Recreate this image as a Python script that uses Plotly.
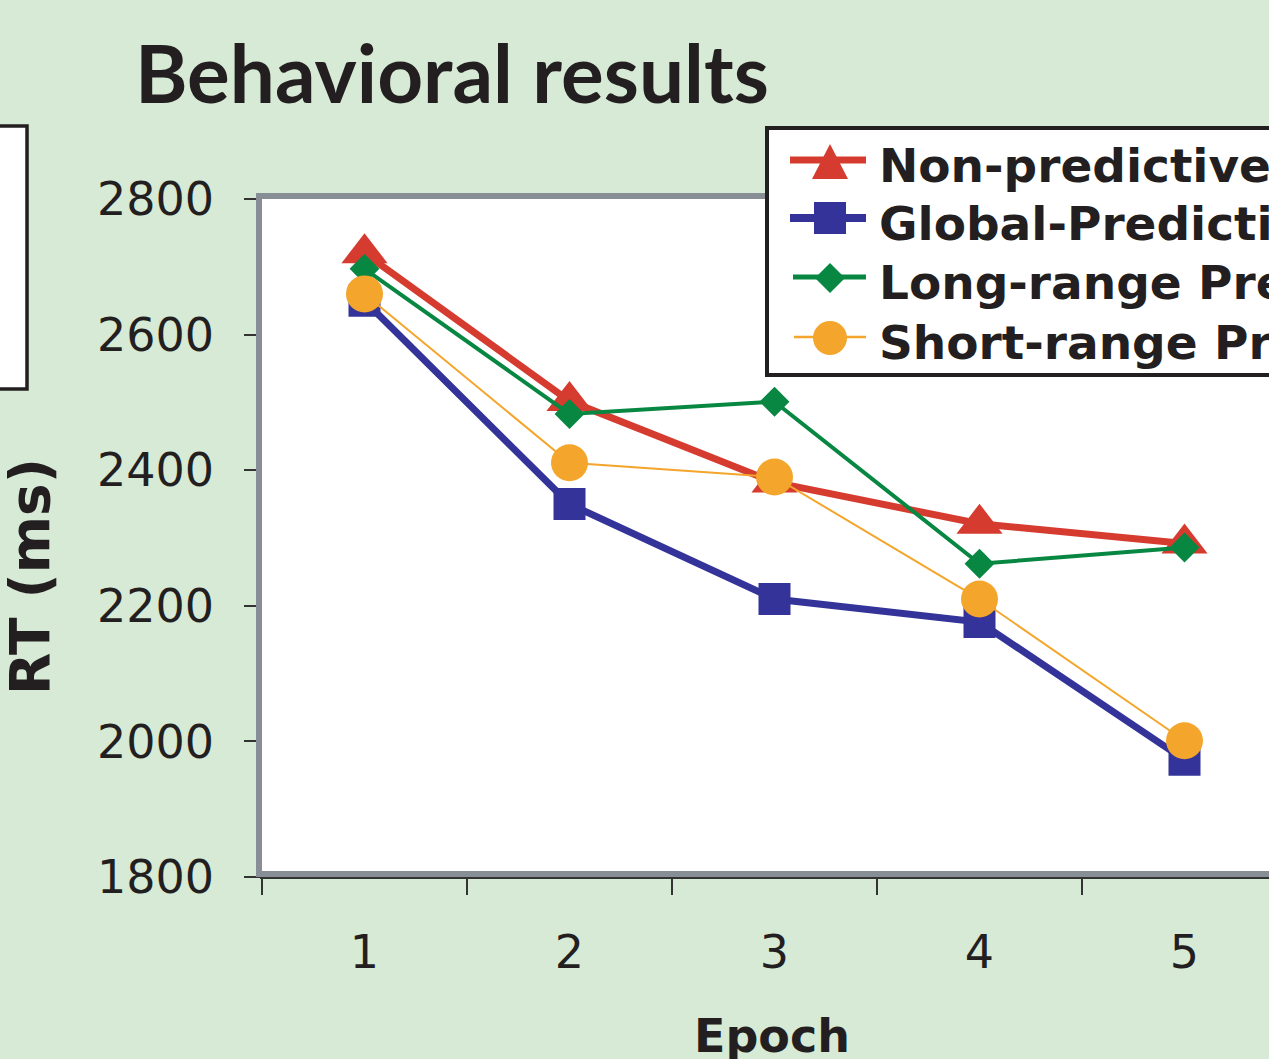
import plotly.graph_objects as go

# ---- data ----
epochs = ["1", "2", "3", "4", "5"]
non_predictive = [2720, 2502, 2382, 2321, 2292]
global_predictive = [2650, 2350, 2210, 2176, 1973]
long_range_predictive = [2697, 2483, 2501, 2262, 2286]
short_range_predictive = [2660, 2411, 2390, 2210, 2001]
series_names = ["Non-predictive", "Global-Predictive", "Long-range Predictive", "Short-range Predictive"]
y_ticks = [1800, 2000, 2200, 2400, 2600, 2800]

# ---- styling ----
W, H = 1269, 1059
L, R_EDGE, T, B = 262, 1269, 199, 877
RED, BLUE, GREEN, ORANGE = "#d63b2f", "#333399", "#078742", "#f4a52b"
GRAY = "#878e95"
INK = "#231f20"
BG = "#d7ead6"


def px(x):
    return (x - L) / (R_EDGE - L)


def py(y):
    return (B - y) / (B - T)


fig = go.Figure()

styles = [
    (non_predictive, RED, 7, "triangle-up", 40),
    (global_predictive, BLUE, 7, "square", 32),
    (long_range_predictive, GREEN, 4, "diamond", 23),
    (short_range_predictive, ORANGE, 2, "circle", 37),
]
for name, (vals, col, lw, sym, ms) in zip(series_names, styles):
    fig.add_trace(go.Scatter(
        x=epochs, y=vals, name=name, mode="lines+markers",
        line=dict(color=col, width=lw),
        marker=dict(symbol=sym, size=ms, color=col, line=dict(width=0)),
        showlegend=False,
    ))

shapes = []
# gray 3D frame
shapes.append(dict(type="line", xref="paper", yref="paper", x0=px(256), x1=px(1290), y0=py(196), y1=py(196),
                   line=dict(color=GRAY, width=6), layer="above"))
shapes.append(dict(type="line", xref="paper", yref="paper", x0=px(259), x1=px(259), y0=py(193), y1=py(877),
                   line=dict(color=GRAY, width=6), layer="above"))
shapes.append(dict(type="line", xref="paper", yref="paper", x0=px(262), x1=px(1290), y0=py(874), y1=py(874),
                   line=dict(color=GRAY, width=6), layer="above"))
# left partial box (from neighbouring panel)
shapes.append(dict(type="rect", xref="paper", yref="paper", x0=px(-20), x1=px(27), y0=py(389), y1=py(126),
                   line=dict(color=INK, width=3.5), fillcolor="white", layer="above"))
# legend box
shapes.append(dict(type="rect", xref="paper", yref="paper", x0=px(767), x1=px(1300), y0=py(375), y1=py(128),
                   line=dict(color=INK, width=4), fillcolor="white", layer="above"))

# legend glyphs
rows = [160, 218, 277, 337]
line_w = [7, 8, 5, 2.5]
cols = [RED, BLUE, GREEN, ORANGE]
mx = 830
for ry, lw, col, x0 in zip(rows, line_w, cols, [790, 790, 793, 794]):
    shapes.append(dict(type="line", xref="paper", yref="paper", x0=px(x0), x1=px(866), y0=py(ry), y1=py(ry),
                       line=dict(color=col, width=lw), layer="above"))
# triangle
ty = rows[0]
shapes.append(dict(type="path", xref="paper", yref="paper",
                   path=f"M {px(mx-18)},{py(ty+19)} L {px(mx+18)},{py(ty+19)} L {px(mx)},{py(ty-16)} Z",
                   fillcolor=RED, line=dict(width=0), layer="above"))
# square
sy = rows[1]
shapes.append(dict(type="rect", xref="paper", yref="paper", x0=px(mx-16), x1=px(mx+16), y0=py(sy+16), y1=py(sy-16),
                   fillcolor=BLUE, line=dict(width=0), layer="above"))
# diamond
dy = rows[2] + 1
shapes.append(dict(type="path", xref="paper", yref="paper",
                   path=f"M {px(mx-15)},{py(dy)} L {px(mx)},{py(dy-15)} L {px(mx+15)},{py(dy)} L {px(mx)},{py(dy+15)} Z",
                   fillcolor=GREEN, line=dict(width=0), layer="above"))
# circle
cy = rows[3] + 1
shapes.append(dict(type="circle", xref="paper", yref="paper", x0=px(mx-17), x1=px(mx+17), y0=py(cy+17), y1=py(cy-17),
                   fillcolor=ORANGE, line=dict(width=0), layer="above"))

annotations = []
for name, ry in zip(series_names, rows):
    annotations.append(dict(text=name, xref="paper", yref="paper", x=px(877), y=py(ry + 5),
                            xanchor="left", yanchor="middle", showarrow=False,
                            font=dict(family="DejaVu Sans", size=47, color=INK, weight="bold")))
annotations.append(dict(text="Behavioral results", xref="paper", yref="paper", x=px(133), y=py(72),
                        xanchor="left", yanchor="middle", showarrow=False,
                        font=dict(family="Lato", size=80, color=INK, weight="bold")))
annotations.append(dict(text="RT (ms)", xref="paper", yref="paper", x=px(30), y=py(577), textangle=-90,
                        xanchor="center", yanchor="middle", showarrow=False,
                        font=dict(family="DejaVu Sans", size=55, color=INK, weight="bold")))
annotations.append(dict(text="Epoch", xref="paper", yref="paper", x=px(772), y=py(1036),
                        xanchor="center", yanchor="middle", showarrow=False,
                        font=dict(family="DejaVu Sans", size=46, color=INK, weight="bold")))

fig.update_layout(
    width=W, height=H,
    margin=dict(l=L, r=W - R_EDGE, t=T, b=H - B, pad=0),
    paper_bgcolor=BG, plot_bgcolor="white",
    showlegend=False,
    shapes=shapes, annotations=annotations,
    xaxis=dict(type="category", range=[-0.5, -0.5 + (R_EDGE - L) / 205.0],
               tickson="boundaries", ticks="outside", ticklen=16, tickwidth=1.5, tickcolor="#333",
               showline=True, linecolor="#333", linewidth=1.5, showgrid=False, zeroline=False,
               tickfont=dict(family="DejaVu Sans", size=46, color=INK), ticklabelstandoff=34),
    yaxis=dict(range=[1800, 2800], tickvals=y_ticks, ticks="outside", ticklen=16, tickwidth=1.5,
               tickcolor="#333", showline=True, linecolor="#333", linewidth=1.5,
               showgrid=False, zeroline=False,
               tickfont=dict(family="DejaVu Sans", size=46, color=INK), ticklabelstandoff=21),
)

fig.write_html(
    "out.html",
    config={"displayModeBar": False},
    post_script="document.body.style.margin='0';document.body.style.padding='0';"
                "document.body.style.overflow='hidden';document.body.style.background='" + BG + "';",
)
